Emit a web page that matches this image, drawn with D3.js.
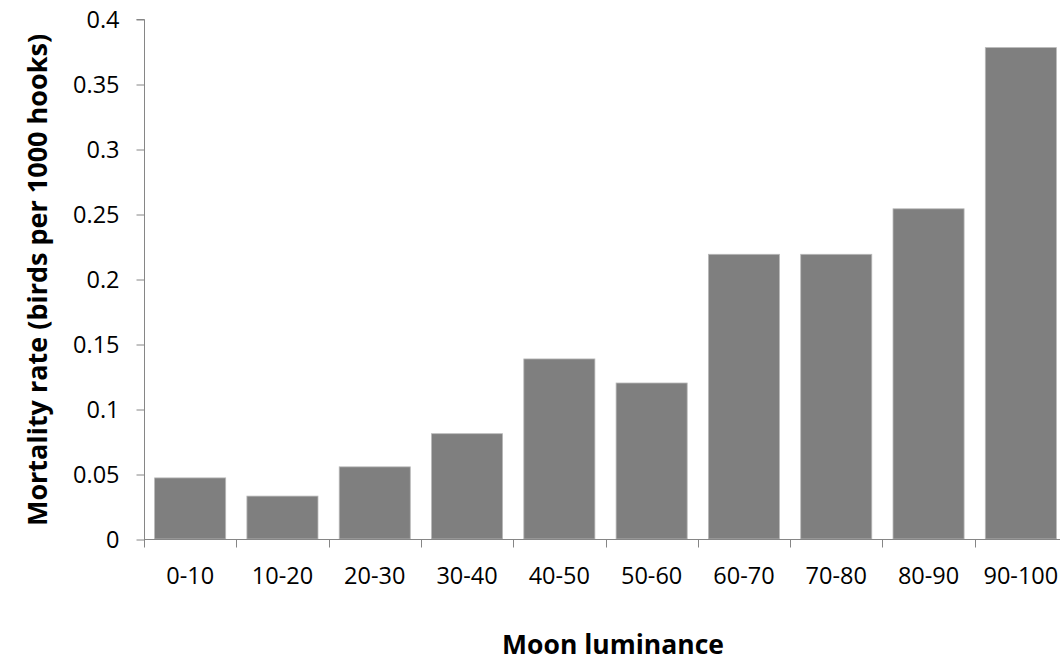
<!DOCTYPE html>
<html>
<head>
<meta charset="utf-8">
<script src="https://cdn.jsdelivr.net/npm/d3@7"></script>
<style>
  html, body { margin: 0; padding: 0; background: #fff; }
  svg { display: block; }
  text { font-family: "Open Sans", "Noto Sans", sans-serif; fill: #000; }
</style>
</head>
<body>
<svg id="chart" width="1060" height="662"></svg>
<script>
const categories = ["0-10", "10-20", "20-30", "30-40", "40-50", "50-60", "60-70", "70-80", "80-90", "90-100"];
const mortality = [0.047, 0.033, 0.0555, 0.081, 0.1385, 0.12, 0.219, 0.219, 0.254, 0.378];
const yTicks = [0, 0.05, 0.1, 0.15, 0.2, 0.25, 0.3, 0.35, 0.4];
const yTickLabels = ["0", "0.05", "0.1", "0.15", "0.2", "0.25", "0.3", "0.35", "0.4"];
const xTitle = "Moon luminance";
const yTitle = "Mortality rate (birds per 1000 hooks)";

const svg = d3.select("#chart");
const mLeft = 144, mRight = 1067, mTop = 19, mBottom = 539;
const axisColor = "#868686";

const x = d3.scaleBand().domain(categories).range([mLeft, mRight]).paddingInner(0.23).paddingOuter(0.115);
const xb = d3.scaleBand().domain(categories).range([mLeft, mRight]).padding(0);
const y = d3.scaleLinear().domain([0, 0.4]).range([mBottom, mTop]);

// bars
svg.append("g").selectAll("rect").data(categories).join("rect")
  .attr("x", d => x(d))
  .attr("y", (d, i) => y(mortality[i]))
  .attr("width", x.bandwidth())
  .attr("height", (d, i) => y(0) - y(mortality[i]))
  .attr("fill", "#7f7f7f")
  .attr("stroke", "#b8b8b8")
  .attr("stroke-width", 0.8);

// y axis
const yAxis = d3.axisLeft(y).tickValues(yTicks)
  .tickFormat((d, i) => yTickLabels[i]).tickSize(8).tickPadding(17);
const gy = svg.append("g").attr("transform", `translate(${mLeft + 0.5},0)`).call(yAxis);
gy.select(".domain").attr("stroke", axisColor).attr("d", `M-8,${y(0.4) + 0.5}H0V${y(0) + 0.5}`);
gy.selectAll(".tick line").attr("stroke", axisColor).attr("transform", "translate(0,0.5)");
gy.selectAll(".tick text").attr("font-size", 23.5).attr("fill", "#000")
  .style("font-family", '"Open Sans", "Noto Sans", sans-serif').attr("dy", "0.34em");

// x axis
const boundaries = categories.map(c => xb(c)).concat([mRight]);
const gx = svg.append("g").attr("transform", `translate(0,${mBottom + 0.5})`);
gx.append("path").attr("d", `M${mLeft},0H${mRight}`).attr("stroke", axisColor).attr("fill", "none");
gx.selectAll("line.tk").data(boundaries).join("line").attr("class", "tk")
  .attr("x1", d => Math.round(d) + 0.5).attr("x2", d => Math.round(d) + 0.5)
  .attr("y1", 0).attr("y2", 8).attr("stroke", axisColor);
gx.selectAll("text").data(categories).join("text")
  .attr("x", d => xb(d) + xb.bandwidth() / 2)
  .attr("y", 44)
  .attr("text-anchor", "middle")
  .attr("font-size", 23.5)
  .text(d => d);

// titles
svg.append("text").attr("x", 613).attr("y", 654).attr("text-anchor", "middle")
  .attr("font-size", 26.5).attr("font-weight", "bold").text(xTitle);
svg.append("text").attr("transform", "translate(47,280) rotate(-90)").attr("text-anchor", "middle")
  .attr("font-size", 27).attr("font-weight", "bold").text(yTitle);
</script>
</body>
</html>
